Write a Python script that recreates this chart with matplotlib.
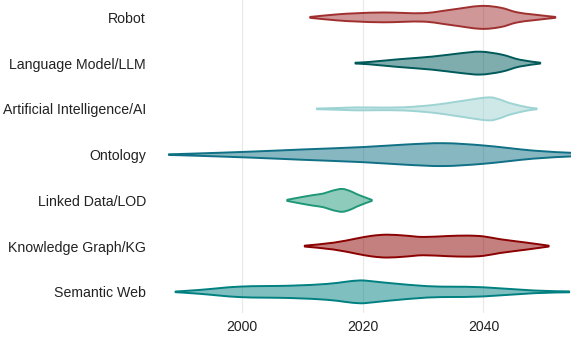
import matplotlib.pyplot as plt
import numpy as np
from matplotlib.colors import to_rgba
from matplotlib.path import Path
from matplotlib.patches import PathPatch

plt.rcParams['font.family'] = ['Liberation Sans', 'DejaVu Sans']

# categories from bottom to top
categories = ['Semantic Web', 'Knowledge Graph/KG', 'Linked Data/LOD', 'Ontology',
              'Artificial Intelligence/AI', 'Language Model/LLM', 'Robot']
colors = ['#008080', '#8b0000', '#1e9878', '#107085', '#9ed3d3', '#005a5a', '#a03030']

# violin outlines: year -> relative half width (max = 1)
sw_years = [1989, 1993, 1999.7, 2008, 2014, 2017, 2019.6, 2022, 2024.6, 2030.6, 2035, 2040, 2048.3, 2054.2]
sw_width = [0.03, 0.17, 0.46, 0.54, 0.69, 0.87, 1.0, 0.9, 0.76, 0.5, 0.45, 0.4, 0.12, 0.04]

kg_years = [2010.4, 2015.2, 2019, 2021.5, 2024, 2027, 2030, 2034, 2037.3, 2040, 2042.8, 2047.2, 2050.8]
kg_width = [0.04, 0.3, 0.67, 0.9, 1.0, 0.92, 0.8, 0.88, 0.92, 0.85, 0.6, 0.3, 0.04]

lod_years = [2007.5, 2010, 2011.9, 2013.5, 2015, 2016.6, 2018, 2019, 2020.7, 2021.5]
lod_width = [0.05, 0.3, 0.47, 0.6, 0.85, 1.0, 0.8, 0.55, 0.2, 0.05]

onto_years = [1987.9, 1992, 2001.4, 2010, 2020, 2027, 2033.4, 2040, 2048.3, 2054.5, 2056]
onto_width = [0.03, 0.09, 0.26, 0.45, 0.66, 0.88, 1.0, 0.8, 0.35, 0.16, 0.12]

ai_years = [2012.4, 2016, 2019, 2022, 2026.8, 2031.7, 2035.6, 2040.6, 2042.5, 2044.4, 2047.2, 2048.8]
ai_width = [0.03, 0.08, 0.13, 0.12, 0.14, 0.34, 0.63, 1.0, 0.85, 0.5, 0.15, 0.04]

llm_years = [2018.8, 2021, 2026, 2031.5, 2036, 2039.5, 2043, 2046, 2049.4]
llm_width = [0.04, 0.1, 0.34, 0.57, 0.85, 1.0, 0.75, 0.3, 0.04]

robot_years = [2011.3, 2015.7, 2019, 2023.5, 2030, 2034.5, 2039.5, 2042.8, 2045.5, 2048.3, 2051.9]
robot_width = [0.04, 0.26, 0.36, 0.43, 0.37, 0.66, 1.0, 0.85, 0.45, 0.25, 0.04]

profiles = [(sw_years, sw_width), (kg_years, kg_width), (lod_years, lod_width),
            (onto_years, onto_width), (ai_years, ai_width), (llm_years, llm_width),
            (robot_years, robot_width)]


def smooth_side(pts):
    # bezier pieces through the points (catmull-rom style handles)
    verts, codes = [], []
    n = len(pts)
    for k in range(n - 1):
        p0 = pts[max(k - 1, 0)]
        p1 = pts[k]
        p2 = pts[k + 1]
        p3 = pts[min(k + 2, n - 1)]
        c1 = p1 + (p2 - p0) / 6.0
        c2 = p2 - (p3 - p1) / 6.0
        verts += [c1, c2, p2]
        codes += [Path.CURVE4] * 3
    return verts, codes


def draw_violins(ax):
    half = 0.25
    for i, (yrs, wid) in enumerate(profiles):
        yrs = np.array(yrs, dtype=float)
        wid = np.array(wid) * half
        top = np.column_stack([yrs, i + wid])
        bot = np.column_stack([yrs[::-1], (i - wid)[::-1]])
        verts = [top[0]]
        codes = [Path.MOVETO]
        v, c = smooth_side(top)
        verts += v
        codes += c
        verts.append(bot[0])
        codes.append(Path.LINETO)
        v, c = smooth_side(bot)
        verts += v
        codes += c
        verts.append(top[0])
        codes.append(Path.CLOSEPOLY)
        patch = PathPatch(Path(np.array(verts), codes), facecolor=to_rgba(colors[i], 0.5),
                          edgecolor=colors[i], linewidth=1.4, joinstyle='round', zorder=3)
        ax.add_patch(patch)


def main():
    fig = plt.figure(figsize=(5.71, 3.39), dpi=100)
    ax = fig.add_axes([0.263, 0.077, 0.737, 0.923])
    draw_violins(ax)

    ax.set_xlim(1984.8, 2054.5)
    ax.set_ylim(-0.46, 6.38)
    ax.set_xticks([2000, 2020, 2040])
    ax.set_yticks(range(len(categories)))
    ax.set_yticklabels(categories)
    ax.tick_params(length=0, labelsize=10.2, labelcolor='#222222')
    ax.tick_params(axis='y', pad=3)
    ax.tick_params(axis='x', pad=5)
    ax.grid(axis='x', color='#e8e8e8', linewidth=0.8, zorder=0)
    ax.set_axisbelow(True)
    for s in ax.spines.values():
        s.set_visible(False)

    fig.savefig('out.png', dpi=100)


if __name__ == "__main__":
    main()
